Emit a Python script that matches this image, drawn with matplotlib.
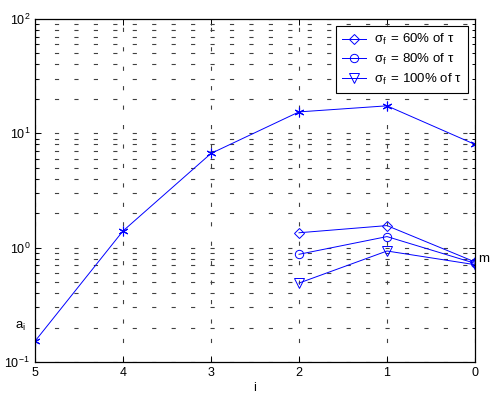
import matplotlib
matplotlib.use("Agg")
import matplotlib.pyplot as plt
from matplotlib.ticker import LogLocator, NullFormatter

plt.rcParams['font.family'] = ['Liberation Sans', 'DejaVu Sans']
plt.rcParams['mathtext.fontset'] = 'custom'
plt.rcParams['mathtext.rm'] = 'Liberation Sans'
plt.rcParams['mathtext.it'] = 'Liberation Sans:italic'
plt.rcParams['mathtext.bf'] = 'Liberation Sans:bold'
plt.rcParams['lines.scale_dashes'] = False

# Data
x_main = [5, 4, 3, 2, 1, 0]
a_main = [0.152, 1.40, 6.67, 15.4, 17.4, 8.0]
x_sub = [2, 1, 0]
s60 = [1.35, 1.56, 0.75]
s80 = [0.875, 1.25, 0.73]
s100 = [0.49, 0.935, 0.71]
labels = [r'σ$_\mathrm{f}\,$ = 60% of τ', r'σ$_\mathrm{f}\,$ = 80% of τ', r'σ$_\mathrm{f}\,$ = 100% of τ']

fig = plt.figure(figsize=(4.92, 3.97), dpi=100)
ax = fig.add_axes([35/492, 1-362/397, 440/492, 343/397])

blue = (0, 0, 1)
ax.plot(x_main, a_main, color=blue, lw=0.7, marker=(6, 2, 0), ms=7, mew=0.8)
ax.plot(x_sub, s60, color=blue, lw=0.7, marker='D', ms=5.5, mfc='none', mew=0.7, label=labels[0])
ax.plot(x_sub, s80, color=blue, lw=0.7, marker='o', ms=6, mfc='none', mew=0.7, label=labels[1])
ax.plot(x_sub, s100, color=blue, lw=0.7, marker='v', ms=6.5, mfc='none', mew=0.7, label=labels[2])

ax.set_yscale('log')
ax.set_ylim(0.1, 100)
ax.set_xlim(5, 0)
ax.set_xticks([5, 4, 3, 2, 1, 0])
ax.yaxis.set_major_locator(LogLocator(base=10, numticks=10))
ax.yaxis.set_minor_locator(LogLocator(base=10, subs=range(2, 10), numticks=20))
ax.yaxis.set_minor_formatter(NullFormatter())

gls = (0, (3, 11))
ax.grid(True, which='major', axis='both', color='#404040', lw=0.8, linestyle=gls)
ax.grid(True, which='minor', axis='y', color='#404040', lw=0.8, linestyle=gls)
ax.set_axisbelow(True)

ax.tick_params(which='both', direction='in', top=True, right=True, labelsize=9, width=0.7)
ax.tick_params(which='major', length=4)
ax.tick_params(which='minor', length=2)
for sp in ax.spines.values():
    sp.set_linewidth(0.9)

ax.set_xlabel('i', fontsize=9, labelpad=2)

ax.text(-0.02, 0.085, r'a$_\mathrm{i}$', transform=ax.transAxes, ha='right', va='bottom', fontsize=9.5)
ax.text(1.008, 0.30, 'm', transform=ax.transAxes, ha='left', va='center', fontsize=9.5)

leg = ax.legend(loc='upper right', fontsize=9.5, frameon=True, fancybox=False,
                edgecolor='black', framealpha=1, borderaxespad=0.55,
                borderpad=0.45, handlelength=1.85, handletextpad=0.6,
                labelspacing=0.35)
leg.get_frame().set_linewidth(0.8)

fig.savefig('out.png', dpi=100)
